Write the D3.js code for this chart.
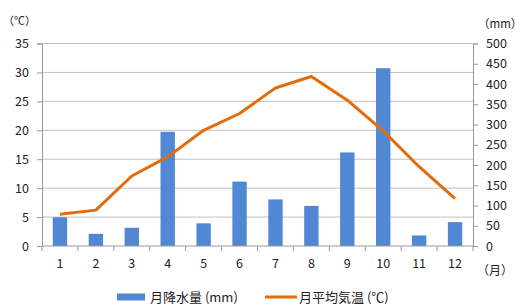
<!DOCTYPE html>
<html>
<head>
<meta charset="utf-8">
<script src="https://cdn.jsdelivr.net/npm/d3@7"></script>
<style>
  body { margin: 0; background: #fff; overflow: hidden; }
  svg { display: block; overflow: visible; }
  svg text { font-family: "Noto Sans CJK JP", "Noto Sans", sans-serif; fill: #222; }
</style>
</head>
<body>
<div id="chart"></div>
<script>
// data
const months = ["1", "2", "3", "4", "5", "6", "7", "8", "9", "10", "11", "12"];
const rainfall = [71, 30, 45, 282, 56, 159, 115, 99, 231, 439, 26, 59];   // mm
const temperature = [5.5, 6.2, 12.1, 15.4, 20.0, 22.9, 27.3, 29.3, 25.2, 19.9, 13.7, 8.2]; // ℃
const tempTicks = [0, 5, 10, 15, 20, 25, 30, 35];
const rainTicks = [0, 50, 100, 150, 200, 250, 300, 350, 400, 450, 500];

const width = 521, height = 306;
const margin = { top: 43.5, right: 48, bottom: 60, left: 42 };
const innerWidth = width - margin.left - margin.right;
const innerHeight = height - margin.top - margin.bottom;

const blue = "#5088d3";
const orange = "#e36c0a";
const gridColor = "#c0c0c0";
const axisColor = "#999";

const svg = d3.select("#chart")
  .append("svg")
  .attr("width", width)
  .attr("height", height);

const g = svg.append("g")
  .attr("transform", `translate(${margin.left},${margin.top})`);

const xScale = d3.scaleBand()
  .domain(months)
  .range([0, innerWidth]);

const yTemp = d3.scaleLinear().domain([0, 35]).range([innerHeight, 0]);
const yRain = d3.scaleLinear().domain([0, 500]).range([innerHeight, 0]);

// gridlines
g.append("g")
  .selectAll("line")
  .data(tempTicks.slice(1))
  .join("line")
  .attr("x1", 0)
  .attr("x2", innerWidth)
  .attr("y1", d => yTemp(d))
  .attr("y2", d => yTemp(d))
  .attr("stroke", gridColor)
  .attr("stroke-width", 1);

// bars
const barW = xScale.bandwidth() * 0.4;
g.selectAll(".bar")
  .data(months)
  .join("rect")
  .attr("class", "bar")
  .attr("x", (d, i) => xScale(d) + (xScale.bandwidth() - barW) / 2)
  .attr("y", (d, i) => yRain(rainfall[i]))
  .attr("width", barW)
  .attr("height", (d, i) => innerHeight - yRain(rainfall[i]))
  .attr("fill", blue);

// axes
const leftAxis = g.append("g")
  .call(d3.axisLeft(yTemp).tickValues(tempTicks).tickSize(5).tickPadding(8));
const rightAxis = g.append("g")
  .attr("transform", `translate(${innerWidth},0)`)
  .call(d3.axisRight(yRain).tickValues(rainTicks).tickSize(5).tickPadding(8));

// bottom axis: ticks between categories
const bottom = g.append("g").attr("transform", `translate(0,${innerHeight})`);
bottom.append("line")
  .attr("x1", 0).attr("x2", innerWidth)
  .attr("stroke", axisColor);
bottom.selectAll(".tk")
  .data(d3.range(months.length + 1))
  .join("line")
  .attr("x1", i => i * xScale.step())
  .attr("x2", i => i * xScale.step())
  .attr("y1", 0).attr("y2", 5)
  .attr("stroke", axisColor);
bottom.selectAll("text")
  .data(months)
  .join("text")
  .attr("x", d => xScale(d) + xScale.bandwidth() / 2)
  .attr("y", 22)
  .attr("text-anchor", "middle")
  .style("font-size", "12.5px")
  .text(d => d);

[leftAxis, rightAxis].forEach(a => {
  a.select(".domain").attr("stroke", axisColor);
  a.selectAll(".tick line").attr("stroke", axisColor);
  a.selectAll(".tick text").style("font-size", "12.5px").attr("fill", "#222");
});

// temperature line
const line = d3.line()
  .x((d, i) => xScale(months[i]) + xScale.bandwidth() / 2)
  .y(d => yTemp(d));

g.append("path")
  .datum(temperature)
  .attr("d", line)
  .attr("fill", "none")
  .attr("stroke", orange)
  .attr("stroke-width", 3)
  .attr("stroke-linejoin", "round");

// unit labels
svg.append("text").attr("x", 3).attr("y", 25).style("font-size", "11px").text("（℃）");
svg.append("text").attr("x", 478).attr("y", 28).style("font-size", "11.5px").text("（mm）");
svg.append("text").attr("x", 477).attr("y", 275).style("font-size", "12px").text("（月）");

// legend
const legend = svg.append("g").attr("transform", "translate(0,297)");
legend.append("rect")
  .attr("x", 117).attr("y", -3.5)
  .attr("width", 28).attr("height", 7)
  .attr("fill", blue);
legend.append("text")
  .attr("x", 150).attr("y", 5)
  .style("font-size", "13px")
  .text("月降水量 (mm)");
legend.append("line")
  .attr("x1", 265).attr("x2", 297)
  .attr("stroke", orange)
  .attr("stroke-width", 3);
legend.append("text")
  .attr("x", 299).attr("y", 5)
  .style("font-size", "13px")
  .text("月平均気温 (℃)");
</script>
</body>
</html>
